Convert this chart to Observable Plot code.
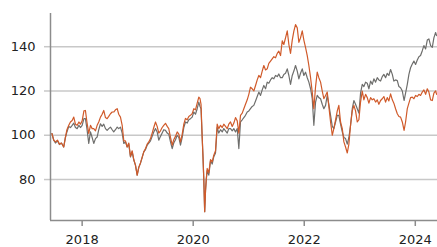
<!DOCTYPE html>
<html>
<head>
<meta charset="utf-8">
<script src="https://cdn.jsdelivr.net/npm/d3@7"></script>
<script src="https://cdn.jsdelivr.net/npm/@observablehq/plot@0.6"></script>
<style>
  html, body { margin: 0; padding: 0; background: #ffffff; }
  #chart svg { display: block; }
</style>
</head>
<body>
<div id="chart"></div>
<script>
// Dates as decimal years
const dates = [
  2017.456, 2017.488, 2017.519, 2017.555, 2017.591, 2017.627, 2017.668, 2017.699, 2017.726, 2017.759,
  2017.789, 2017.820, 2017.849, 2017.879, 2017.910, 2017.942, 2017.969, 2018.000, 2018.032, 2018.059,
  2018.086, 2018.119, 2018.150, 2018.180, 2018.209, 2018.240, 2018.270, 2018.299, 2018.330, 2018.360,
  2018.389, 2018.420, 2018.450, 2018.479, 2018.510, 2018.541, 2018.569, 2018.600, 2018.631, 2018.659,
  2018.690, 2018.721, 2018.750, 2018.780, 2018.811, 2018.840, 2018.870, 2018.901, 2018.930, 2018.960,
  2018.991, 2019.020, 2019.050, 2019.081, 2019.110, 2019.141, 2019.171, 2019.200, 2019.231, 2019.261,
  2019.290, 2019.321, 2019.351, 2019.380, 2019.411, 2019.441, 2019.470, 2019.501, 2019.532, 2019.560,
  2019.591, 2019.622, 2019.650, 2019.681, 2019.712, 2019.741, 2019.771, 2019.802, 2019.831, 2019.861,
  2019.892, 2019.921, 2019.951, 2019.982, 2020.011, 2020.041, 2020.072, 2020.101, 2020.123, 2020.141,
  2020.162, 2020.177, 2020.191, 2020.207, 2020.222, 2020.236, 2020.252, 2020.281, 2020.312, 2020.342,
  2020.371, 2020.402, 2020.432, 2020.461, 2020.492, 2020.523, 2020.551, 2020.582, 2020.613, 2020.641,
  2020.672, 2020.703, 2020.732, 2020.762, 2020.793, 2020.822, 2020.852, 2020.883, 2020.912, 2020.942,
  2020.973, 2021.002, 2021.032, 2021.063, 2021.092, 2021.123, 2021.153, 2021.182, 2021.213, 2021.243,
  2021.272, 2021.303, 2021.333, 2021.362, 2021.393, 2021.423, 2021.452, 2021.483, 2021.514, 2021.542,
  2021.573, 2021.604, 2021.632, 2021.663, 2021.694, 2021.723, 2021.753, 2021.784, 2021.813, 2021.843,
  2021.874, 2021.903, 2021.933, 2021.964, 2021.993, 2022.023, 2022.054, 2022.083, 2022.114, 2022.144,
  2022.173, 2022.204, 2022.234, 2022.263, 2022.294, 2022.324, 2022.353, 2022.384, 2022.414, 2022.443,
  2022.474, 2022.505, 2022.533, 2022.564, 2022.595, 2022.623, 2022.654, 2022.685, 2022.714, 2022.744,
  2022.775, 2022.804, 2022.834, 2022.865, 2022.894, 2022.924, 2022.955, 2022.984, 2023.014, 2023.045,
  2023.074, 2023.105, 2023.135, 2023.164, 2023.195, 2023.225, 2023.254, 2023.285, 2023.315, 2023.344,
  2023.375, 2023.405, 2023.434, 2023.465, 2023.495, 2023.524, 2023.555, 2023.586, 2023.614, 2023.645,
  2023.676, 2023.705, 2023.735, 2023.766, 2023.798, 2023.825, 2023.856, 2023.885, 2023.915, 2023.946,
  2023.975, 2024.005, 2024.036, 2024.065, 2024.095, 2024.126, 2024.155, 2024.186, 2024.216, 2024.245,
  2024.276, 2024.306, 2024.335, 2024.366, 2024.384
];

const grayValues = [
  100.8, 97.8, 96.5, 97.5, 95.8, 96.5, 94.7, 99.0, 101.5, 104.0,
  103.5, 104.5, 105.5, 103.5, 103.0, 104.5, 103.5, 104.5, 107.5, 107.5,
  103.0, 96.3, 101.5, 99.0, 96.3, 98.5, 99.2, 102.5, 105.2, 104.0,
  105.0, 103.0, 102.2, 103.0, 103.7, 102.5, 101.5, 102.5, 103.7, 103.0,
  103.7, 101.0, 96.3, 97.0, 94.7, 96.0, 90.2, 92.5, 88.8, 86.5,
  82.0, 85.5, 87.3, 90.0, 92.5, 93.5, 95.5, 96.4, 97.5, 99.5,
  101.5, 103.0, 101.5, 97.8, 99.5, 101.0, 102.5, 102.2, 101.0, 100.5,
  97.0, 94.0, 96.5, 98.0, 100.0, 99.0, 95.5, 99.0, 103.5, 106.0,
  105.5, 107.0, 107.5, 108.2, 110.5, 109.5, 112.0, 115.0, 113.0, 112.0,
  99.0, 90.0, 80.0, 65.5, 75.0, 80.0, 84.0, 82.0, 88.5, 87.0,
  90.3, 92.0, 103.5, 101.0, 102.5, 101.5, 103.0, 102.0, 101.0, 103.0,
  103.0, 102.0, 103.0, 101.5, 103.0, 94.0, 106.0, 107.0, 108.0, 109.0,
  110.5, 111.0, 112.0, 113.0, 113.5, 115.5, 117.5, 119.5, 118.0, 120.5,
  122.5, 121.0, 124.0, 123.5, 125.0, 126.0, 125.5, 127.0, 126.5, 127.7,
  126.0, 126.0, 127.5, 128.0, 130.0, 127.0, 123.0, 127.0, 129.0, 131.5,
  129.0, 125.5, 128.0, 130.0, 127.0, 128.5, 126.0, 124.0, 121.0, 116.5,
  104.5, 115.0, 118.0, 117.0, 116.5, 114.0, 112.0, 113.5, 118.0, 114.0,
  109.0, 104.0, 103.0, 106.0, 109.0, 109.0, 105.0, 101.5, 99.0, 98.5,
  96.0, 99.0, 104.5, 112.0, 115.7, 114.0, 112.0, 110.0, 119.0, 123.0,
  122.0, 124.0, 123.5, 121.0, 124.5, 123.0, 125.5, 124.0, 126.0, 125.0,
  124.5, 126.5, 127.5, 126.0, 128.0, 127.0, 129.7, 127.5, 124.5, 125.0,
  124.7, 122.0, 121.5, 120.0, 115.7, 119.0, 123.0, 127.5, 130.5, 132.2,
  133.5, 132.0, 134.0, 135.5, 136.0, 138.2, 140.5, 139.0, 143.0, 143.5,
  140.5, 139.7, 144.0, 146.4, 145.0
];

const orangeValues = [
  100.8, 97.8, 97.0, 97.8, 96.0, 96.5, 94.7, 99.2, 102.5, 104.5,
  106.0, 106.7, 108.2, 105.0, 104.5, 106.0, 105.0, 106.5, 111.0, 111.2,
  106.0, 100.8, 104.5, 103.0, 103.0, 102.0, 104.5, 106.0, 108.2, 109.5,
  111.2, 108.0, 107.5, 108.5, 109.7, 110.5, 110.5, 111.5, 112.0, 109.5,
  108.2, 104.5, 97.5, 97.5, 94.7, 96.5, 90.5, 93.0, 89.0, 86.5,
  82.0, 85.5, 87.5, 90.0, 92.5, 94.0, 96.0, 97.0, 98.5, 101.0,
  103.5, 106.0, 104.0, 101.0, 102.0, 103.5, 104.5, 105.4, 104.0, 103.0,
  99.0, 95.5, 98.0, 99.5, 101.5, 100.5, 97.0, 100.5, 105.0, 107.6,
  107.0, 108.5, 109.0, 109.8, 112.0, 111.5, 114.5, 117.2, 116.5, 114.0,
  99.0, 90.0, 80.0, 65.5, 75.0, 80.5, 85.0, 83.0, 89.0, 88.0,
  91.0, 93.0, 105.0, 103.0, 104.5, 103.5, 105.0, 104.0, 103.0, 105.0,
  106.0, 104.0, 105.5, 108.0, 106.5, 101.0, 109.0, 110.0, 112.0, 114.0,
  116.0, 118.5, 121.7, 121.0, 120.0, 122.5, 125.0, 127.0, 126.0, 129.0,
  131.5, 129.5, 130.0, 132.5, 133.5, 134.5, 135.5, 135.0, 137.0, 138.0,
  136.0, 142.7, 141.0, 144.0, 147.2, 141.0, 137.0, 143.0, 147.0, 150.0,
  148.5, 142.0, 144.0, 147.2, 143.0, 139.7, 136.0, 131.5, 126.0, 119.5,
  112.0, 122.0, 128.5, 126.0, 124.0, 120.0, 116.5, 118.0, 119.5, 113.0,
  106.0, 100.0, 103.0, 107.0, 111.0, 113.5, 106.0, 103.0, 97.0, 94.7,
  92.0, 96.0, 104.5, 111.0, 113.5, 111.0, 106.0, 107.0, 115.0, 120.0,
  116.0, 118.5, 117.0, 114.5, 117.0, 116.0, 116.5, 115.0, 116.0, 114.0,
  115.7, 116.5, 117.5, 115.0, 117.0, 115.5, 118.7, 116.0, 114.5, 112.0,
  109.7, 108.5, 108.2, 106.0, 102.2, 106.0, 112.0, 114.5, 117.0, 117.2,
  116.5, 118.0, 117.5, 118.5, 118.0, 119.5, 120.5, 118.5, 121.0, 119.5,
  116.0, 115.7, 119.0, 120.0, 118.5
];

const yTicks = [80, 100, 120, 140];
const xTicks = [2018, 2020, 2022, 2024];
const xDomain = [2017.43, 2024.40];
const yDomain = [61.5, 155];

const grayData = dates.map((d, i) => ({date: d, value: grayValues[i]}));
const orangeData = dates.map((d, i) => ({date: d, value: orangeValues[i]}));

const chart = Plot.plot({
  width: 437,
  height: 247,
  marginLeft: 50,
  marginRight: 0,
  marginTop: 13,
  marginBottom: 27,
  style: {fontFamily: "DejaVu Sans", fontSize: "13px", color: "#222", background: "#fff"},
  x: {type: "linear", domain: xDomain},
  y: {type: "linear", domain: yDomain},
  marks: [
    Plot.gridY(yTicks, {stroke: "#c8c8c8", strokeOpacity: 1, strokeWidth: 1.5}),
    Plot.axisY(yTicks, {tickSize: 6, tickPadding: 9, stroke: "#c8c8c8", strokeWidth: 1.5, label: null}),
    Plot.axisX(xTicks, {tickSize: 6, tickPadding: 8, stroke: "#8c8c8c", strokeWidth: 1.5, tickFormat: d => String(d), label: null}),
    Plot.ruleX([xDomain[0]], {stroke: "#8c8c8c", strokeWidth: 1.5}),
    Plot.ruleY([yDomain[0]], {stroke: "#8c8c8c", strokeWidth: 1.5}),
    Plot.line(grayData, {x: "date", y: "value", stroke: "#6e6e6c", strokeWidth: 1.2}),
    Plot.line(orangeData, {x: "date", y: "value", stroke: "#d05a2a", strokeWidth: 1.2})
  ]
});
document.getElementById("chart").appendChild(chart);
</script>
</body>
</html>
